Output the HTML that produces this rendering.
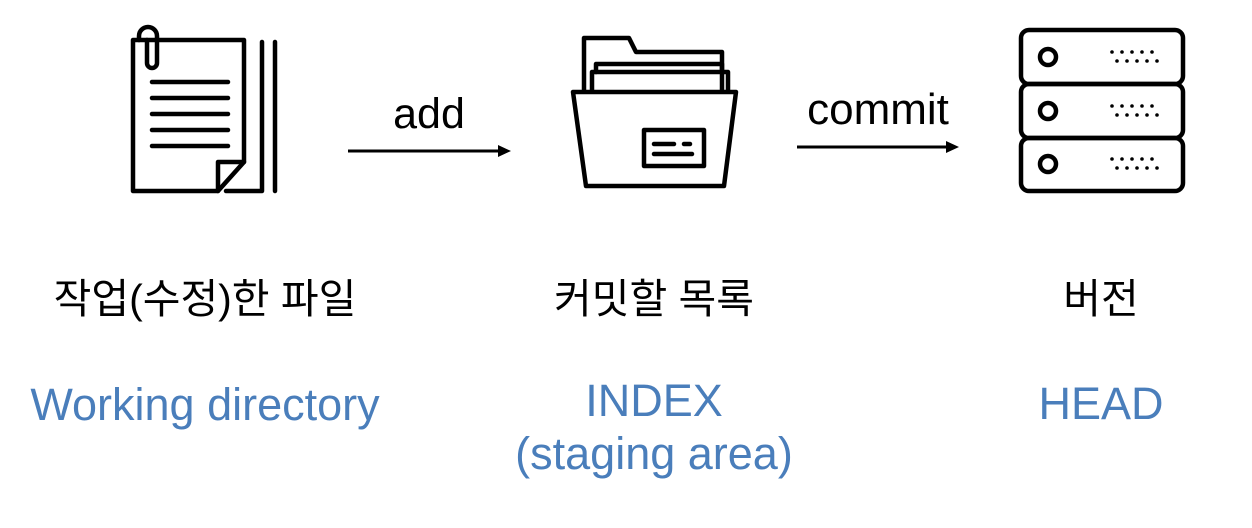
<!DOCTYPE html>
<html><head><meta charset="utf-8"><style>
html,body{margin:0;padding:0;background:#fff;}
svg{display:block;}
text{font-family:"Liberation Sans","Noto Sans CJK KR",sans-serif;}
</style></head><body>
<svg width="1252" height="528" viewBox="0 0 1252 528" xmlns="http://www.w3.org/2000/svg">
<g fill="none" stroke="#000" stroke-width="4.5" stroke-linejoin="round" stroke-linecap="round">
  <path d="M133 40 H244 V162 L218 191 H133 Z"/>
  <path d="M218 191 V162 H244"/>
  <path d="M262 42 V191 M275 42 V191 M226 191 H262"/>
  <path d="M152 82 H228 M152 98 H228 M152 114 H228 M152 130 H228 M152 146 H228"/>
  <path d="M147 40 V63 A5 5 0 0 0 157 63 V36 A9 9 0 0 0 139 36 V40"/>
  <path d="M584 90 V38 H629 L636 52 H722 V90"/>
  <path d="M592 90 V72 H728 V90"/>
  <path d="M596 72 V64 H722 V72"/>
  <path d="M573 92 H736 L724 186 H586 Z"/>
  <rect x="644" y="130" width="60" height="36"/>
  <path d="M654 144 H674 M684 144 H690 M654 154 H692"/>
  <rect x="1021" y="30" width="162" height="54" rx="8"/>
  <rect x="1021" y="84" width="162" height="54" rx="8"/>
  <rect x="1021" y="138" width="162" height="53" rx="8"/>
  <circle cx="1048" cy="57" r="8"/>
  <circle cx="1048" cy="111" r="8"/>
  <circle cx="1048" cy="164" r="8"/>
</g>
<g fill="#000">
  <g id="d">
    <circle cx="1112" cy="52" r="1.8"/><circle cx="1122" cy="52" r="1.8"/><circle cx="1132" cy="52" r="1.8"/><circle cx="1142" cy="52" r="1.8"/><circle cx="1152" cy="52" r="1.8"/>
    <circle cx="1117" cy="61" r="1.8"/><circle cx="1127" cy="61" r="1.8"/><circle cx="1137" cy="61" r="1.8"/><circle cx="1147" cy="61" r="1.8"/><circle cx="1157" cy="61" r="1.8"/>
  </g>
  <use href="#d" y="54"/><use href="#d" y="107"/>
  <rect x="348" y="149.5" width="152" height="3"/>
  <path d="M511 151 L498 145 V157 Z"/>
  <rect x="797" y="145.5" width="152" height="3"/>
  <path d="M959 147 L946 141 V153 Z"/>
</g>
<text x="429" y="128" font-size="43" text-anchor="middle">add</text>
<text x="878" y="124" font-size="44" text-anchor="middle">commit</text>
<g font-size="41" text-anchor="middle" fill="#000">
  <text x="205" y="313">작업(수정)한 파일</text>
  <text x="654" y="313">커밋할 목록</text>
  <text x="1101" y="313">버전</text>
</g>
<g font-size="45" text-anchor="middle" fill="#4a7ebb">
  <text x="205" y="420">Working directory</text>
  <text x="654" y="416">INDEX</text>
  <text x="654" y="469">(staging area)</text>
  <text x="1101" y="419">HEAD</text>
</g>
</svg>
</body></html>
